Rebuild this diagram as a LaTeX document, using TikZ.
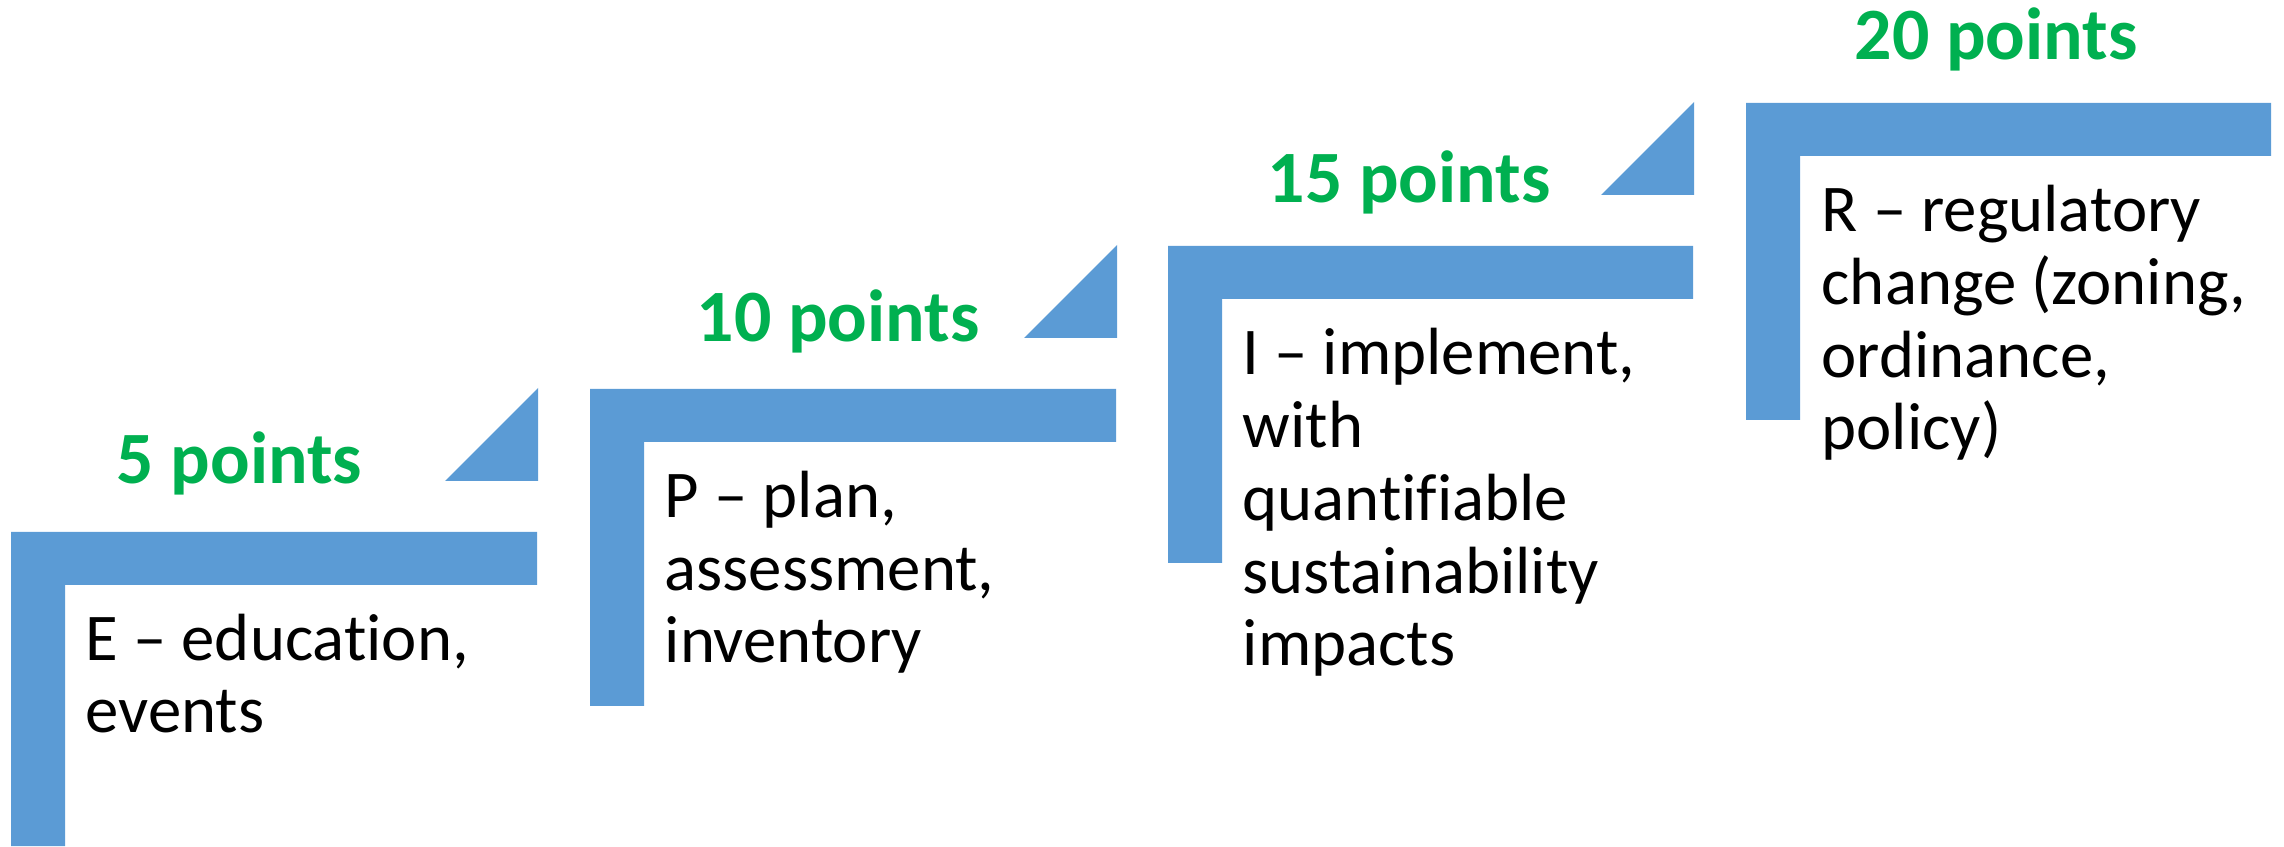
\documentclass[tikz,border=0pt]{standalone}
\usepackage{fontspec}
\setmainfont{Carlito}[Ligatures={TeX,NoCommon}]
\usepackage{tikz}
\definecolor{stairblue}{HTML}{5B9BD5}
\definecolor{ptsgreen}{HTML}{00B050}
\begin{document}
\begin{tikzpicture}[stair/.style={fill=stairblue},
pts/.style={anchor=base west,inner sep=0,text=ptsgreen,font=\fontsize{21}{25}\selectfont\bfseries},
lbl/.style={anchor=base west,inner sep=0,align=left,font=\fontsize{19}{20.7}\selectfont}]
\useasboundingbox (0,0) rectangle (22.84,8.46);
% base of a label node = baseline of its last line
\fill [stair] (0.11,0) -- (0.11,3.14) -- (5.37,3.14) -- (5.37,2.61) -- (0.65,2.61) -- (0.65,0) -- cycle;
\fill [stair] (4.45,3.65) -- (5.38,3.65) -- (5.38,4.58) -- cycle;
\node [pts] (p5) at (1.16,3.62) {5 points};
\node [lbl] (stepE) at (0.85,1.13) {E -- education,\\events};
\fill [stair] (5.90,1.40) -- (5.90,4.57) -- (11.16,4.57) -- (11.16,4.04) -- (6.44,4.04) -- (6.44,1.40) -- cycle;
\fill [stair] (10.24,5.08) -- (11.17,5.08) -- (11.17,6.01) -- cycle;
\node [pts] (p10) at (6.96,5.04) {10 points};
\node [lbl] (stepP) at (6.64,1.83) {P -- plan,\\assessment,\\inventory};
\fill [stair] (11.68,2.83) -- (11.68,6.00) -- (16.93,6.00) -- (16.93,5.47) -- (12.22,5.47) -- (12.22,2.83) -- cycle;
\fill [stair] (16.01,6.51) -- (16.94,6.51) -- (16.94,7.44) -- cycle;
\node [pts] (p15) at (12.67,6.43) {15 points};
\node [lbl] (stepI) at (12.42,1.80) {I -- implement,\\with\\quantifiable\\sustainability\\impacts};
\fill [stair] (17.46,4.26) -- (17.46,7.43) -- (22.71,7.43) -- (22.71,6.90) -- (18.00,6.90) -- (18.00,4.26) -- cycle;
\node [pts] (p20) at (18.54,7.86) {20 points};
\node [lbl] (stepR) at (18.21,3.96) {R -- regulatory\\change (zoning,\\ordinance,\\policy)};
\end{tikzpicture}
\end{document}
